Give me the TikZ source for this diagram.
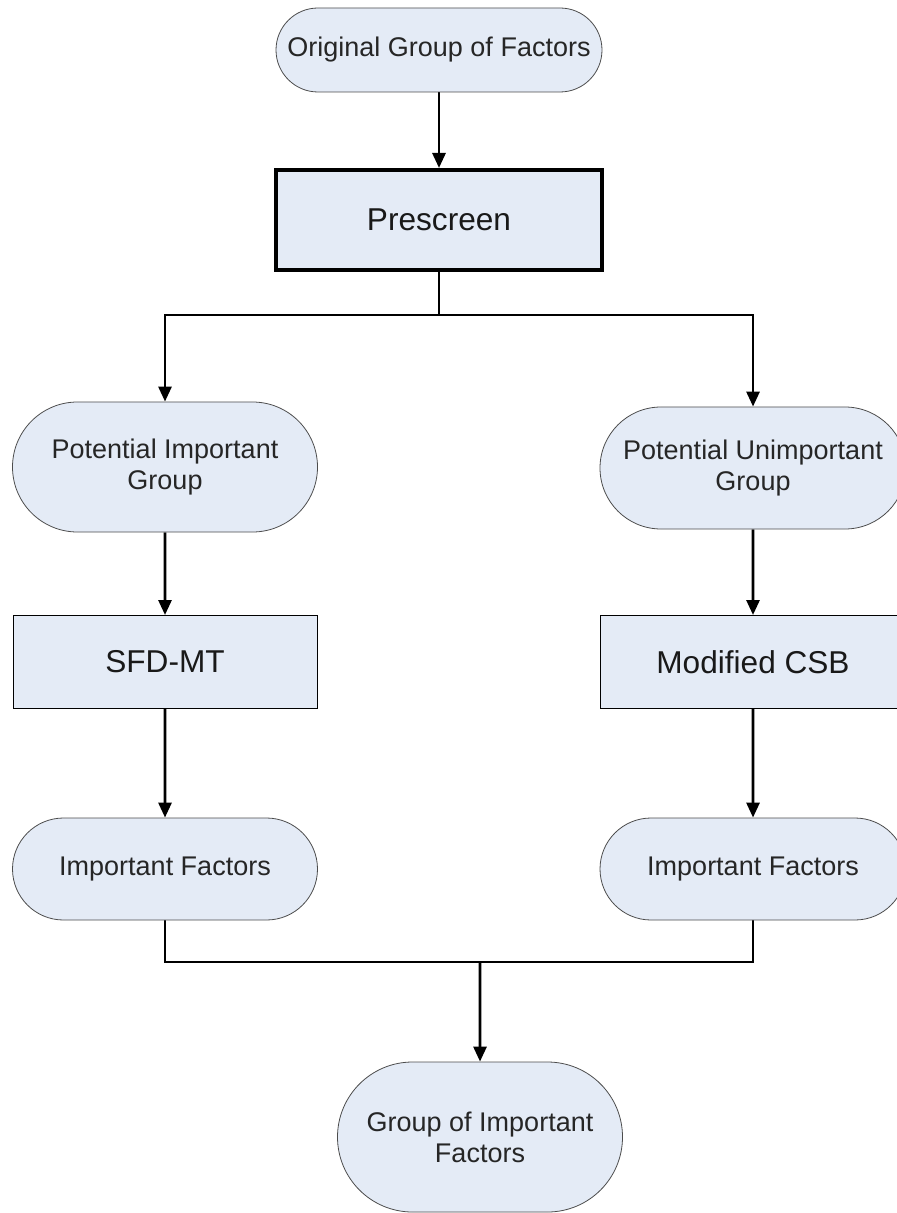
\documentclass[tikz,border=0pt]{standalone}
\usepackage{fontspec}
\setmainfont{Liberation Sans}
\usepackage{tikz}
\usetikzlibrary{shapes.misc}
\usetikzlibrary{arrows.meta}
\pgfdeclarelayer{edgelayer}
\pgfdeclarelayer{nodelayer}
\pgfsetlayers{edgelayer,nodelayer,main}
\definecolor{boxfill}{RGB}{228,235,246}
\tikzstyle{terminal}=[rounded rectangle,fill=boxfill,draw=black!70,line width=0.4pt,align=center,inner sep=0pt,text=black!85,font=\fontsize{13.5}{15.5}\selectfont]
\tikzstyle{process}=[rectangle,fill=boxfill,draw=black,line width=0.5pt,inner sep=0pt,text=black!90,font=\fontsize{15.8}{18}\selectfont]
\tikzstyle{mainprocess}=[process,line width=2pt]
\tikzstyle{transition}=[-{Triangle[length=7.5pt,width=6.5pt]},draw=black,line width=1.4pt]
\tikzstyle{connect}=[draw=black,line width=1.4pt]

\begin{document}
\begin{tikzpicture}[x=0.5pt,y=-0.5pt]
	\useasboundingbox (0,0) rectangle (896,1213);
	\begin{pgfonlayer}{nodelayer}
		\node [style=terminal, minimum width=163pt, minimum height=42pt] (0) at (439, 50) {Original Group of Factors};
		\node [style=mainprocess, minimum width=163pt, minimum height=50pt] (1) at (439, 220) {Prescreen};
		\node [style=terminal, minimum width=152.5pt, minimum height=65pt] (2) at (165, 467) {Potential Important\\Group};
		\node [style=terminal, minimum width=153pt, minimum height=61pt] (3) at (753, 468) {Potential Unimportant\\Group};
		\node [style=process, minimum width=152pt, minimum height=46.5pt] (4) at (165, 662) {SFD-MT};
		\node [style=process, minimum width=153pt, minimum height=46.5pt] (5) at (753, 662) {Modified CSB};
		\node [style=terminal, minimum width=152.5pt, minimum height=51pt] (6) at (165, 869) {Important Factors};
		\node [style=terminal, minimum width=153pt, minimum height=51pt] (7) at (753, 869) {Important Factors};
		\node [style=terminal, minimum width=142.5pt, minimum height=75pt] (8) at (480, 1137) {Group of Important\\Factors};
	\end{pgfonlayer}
	\begin{pgfonlayer}{edgelayer}
		\coordinate (split) at (439, 315);
		\coordinate (merge) at (480, 962);
		\draw [style=transition] (0) to (1);
		\draw [style=connect] (1) to (split);
		\draw [style=transition] (split) -| (2);
		\draw [style=transition] (split) -| (3);
		\draw [style=transition] (2) to (4);
		\draw [style=transition] (3) to (5);
		\draw [style=transition] (4) to (6);
		\draw [style=transition] (5) to (7);
		\draw [style=connect] (6) |- (merge);
		\draw [style=connect] (7) |- (merge);
		\draw [style=transition] (merge) to (8);
	\end{pgfonlayer}
\end{tikzpicture}
\end{document}
